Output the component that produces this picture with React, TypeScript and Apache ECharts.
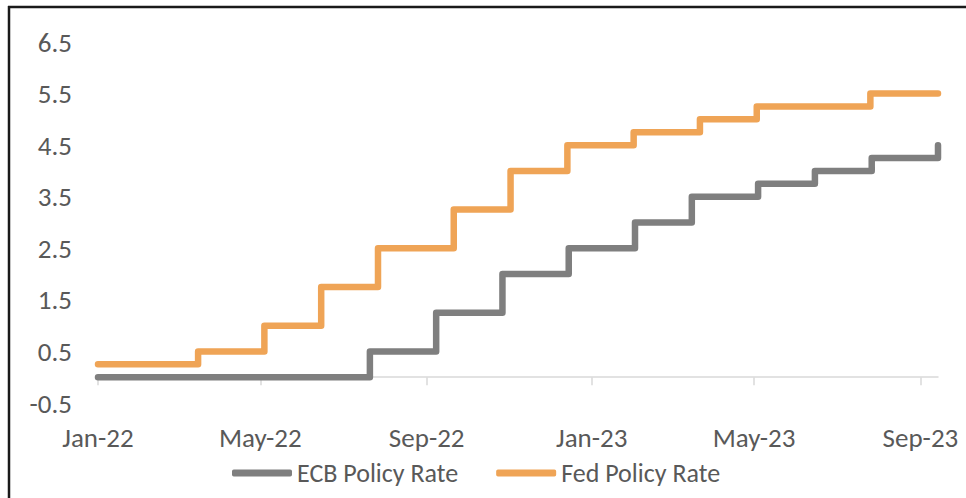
import React, { useEffect, useRef } from "react";
import * as echarts from "echarts";

const ecbDates = ["2022-01-01", "2022-07-21", "2022-09-08", "2022-10-27", "2022-12-15", "2023-02-02", "2023-03-16", "2023-05-04", "2023-06-15", "2023-07-27", "2023-09-14"];
const ecbValues = [0, 0.5, 1.25, 2.0, 2.5, 3.0, 3.5, 3.75, 4.0, 4.25, 4.5];

const fedDates = ["2022-01-01", "2022-03-16", "2022-05-04", "2022-06-15", "2022-07-27", "2022-09-21", "2022-11-02", "2022-12-14", "2023-02-01", "2023-03-22", "2023-05-03", "2023-07-26", "2023-09-14"];
const fedValues = [0.25, 0.5, 1.0, 1.75, 2.5, 3.25, 4.0, 4.5, 4.75, 5.0, 5.25, 5.5, 5.5];

const tickMonths = ["2022-01-01", "2022-05-01", "2022-09-01", "2023-01-01", "2023-05-01", "2023-09-01"];
const monthNames = ["Jan", "Feb", "Mar", "Apr", "May", "Jun", "Jul", "Aug", "Sep", "Oct", "Nov", "Dec"];

const xMin = "2022-01-01";
const xMax = "2023-09-14";
const yMin = -0.5;
const yMax = 6.5;
const yStep = 1;

function toUtc(s: string): number {
  const [y, m, d] = s.split("-").map(Number);
  return Date.UTC(y, m - 1, d);
}

const FONT = "Carlito, Calibri, Lato, sans-serif";
const TEXT = "#595959";

export default function App() {
  const ref = useRef<HTMLDivElement>(null);
  useEffect(() => {
    if (!ref.current) return;
    const chart = echarts.init(ref.current, null, { renderer: "svg" });
    const ticks = tickMonths.map(toUtc);
    chart.setOption({
      animation: false,
      backgroundColor: "#ffffff",
      textStyle: { fontFamily: FONT },
      grid: { left: 98, right: 28, top: 42, bottom: 95, containLabel: false },
      legend: {
        top: 455,
        left: 227,
        itemWidth: 60,
        itemHeight: 7,
        itemGap: 38,
        icon: "roundRect",
        textStyle: { color: TEXT, fontSize: 26, fontFamily: FONT },
        data: ["ECB Policy Rate", "Fed Policy Rate"],
      },
      xAxis: {
        type: "value",
        min: toUtc(xMin),
        max: toUtc(xMax),
        axisLine: { onZero: true, lineStyle: { color: "#d9d9d9", width: 1.5 } },
        axisTick: { show: true, length: 8, customValues: ticks, lineStyle: { color: "#d9d9d9", width: 1.5 } },
        axisLabel: {
          customValues: ticks,
          margin: 21,
          color: TEXT,
          fontSize: 27,
          fontFamily: FONT,
          showMinLabel: true,
          showMaxLabel: true,
          formatter: (v: number) => {
            const d = new Date(v);
            return monthNames[d.getUTCMonth()] + "-" + String(d.getUTCFullYear()).slice(2);
          },
        },
        splitLine: { show: false },
      },
      yAxis: {
        type: "value",
        min: yMin,
        max: yMax,
        interval: yStep,
        axisLine: { show: false },
        axisTick: { show: false },
        splitLine: { show: false },
        axisLabel: {
          margin: 26,
          color: TEXT,
          fontSize: 27,
          fontFamily: FONT,
          formatter: (v: number) => v.toFixed(1),
        },
      },
      series: [
        {
          name: "ECB Policy Rate",
          type: "line",
          step: "end",
          showSymbol: false,
          symbol: "none",
          color: "#7f7f7f",
          lineStyle: { color: "#7f7f7f", width: 6.5, cap: "round", join: "round" },
          data: ecbDates.map((d, i) => [toUtc(d), ecbValues[i]]),
        },
        {
          name: "Fed Policy Rate",
          type: "line",
          step: "end",
          showSymbol: false,
          symbol: "none",
          color: "#efa456",
          lineStyle: { color: "#efa456", width: 6.5, cap: "round", join: "round" },
          data: fedDates.map((d, i) => [toUtc(d), fedValues[i]]),
        },
      ],
      graphic: [
        { type: "line", shape: { x1: 8, y1: 7, x2: 966, y2: 7 }, style: { stroke: "#1a1a1a", lineWidth: 2.5 } },
        { type: "line", shape: { x1: 9, y1: 6, x2: 9, y2: 498 }, style: { stroke: "#1a1a1a", lineWidth: 2.5 } },
      ],
    });
    return () => chart.dispose();
  }, []);
  return <div ref={ref} style={{ width: 966, height: 498, position: "fixed", left: 0, top: 0 }} />;
}
